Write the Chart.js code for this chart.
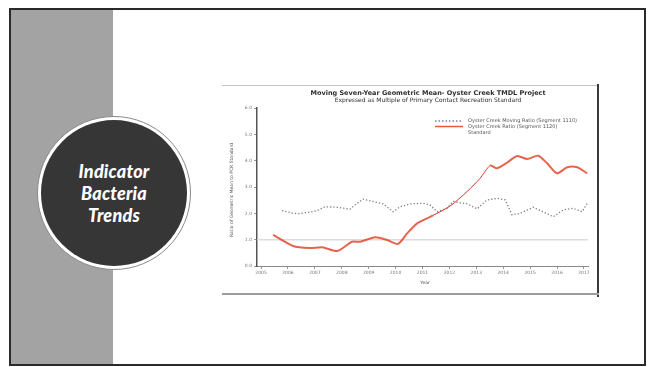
<!DOCTYPE html>
<html>
<head>
<meta charset="utf-8">
<script src="https://cdn.jsdelivr.net/npm/chart.js@4.4.0/dist/chart.umd.min.js"></script>
<style>
  html, body { margin:0; padding:0; background:#fff; }
  #slide { position:relative; width:654px; height:367px; overflow:hidden; background:#fff; }
  #frame { position:absolute; left:9px; top:8px; width:637px; height:358px; border:2px solid #2a2a2a; box-sizing:border-box; background:#fff; }
  #band { position:absolute; left:11px; top:10px; width:102px; height:354px; background:#a3a3a3; }
  #circle { position:absolute; left:37px; top:116px; width:154px; height:154px; border-radius:50%; background:#fff; border:1px solid #8a8a8a; box-sizing:border-box; }
  #inner { position:absolute; left:3px; top:3px; right:3px; bottom:3px; border-radius:50%; background:#363636; display:flex; flex-direction:column; align-items:center; justify-content:center; }
  #inner div { color:#fff; font-family:Lato, "Open Sans", sans-serif; font-weight:900; font-style:italic; font-size:18px; line-height:22px; letter-spacing:0.2px; }
  #cbox { position:absolute; left:218px; top:84px; width:380px; height:210px; }
  #topline { position:absolute; left:222px; top:85px; width:376px; height:1px; background:#c4c4c4; }
  #rightline { position:absolute; left:597px; top:84px; width:2px; height:213px; background:#3a3a3a; }
  #botline { position:absolute; left:222px; top:293px; width:377px; height:2px; background:#9d9d9d; }
</style>
</head>
<body>
<div id="slide">
  <div id="frame"></div>
  <div id="band"></div>
  <div id="circle"><div id="inner"><div>Indicator</div><div>Bacteria</div><div>Trends</div></div></div>
  <div id="topline"></div>
  <div id="rightline"></div>
  <div id="botline"></div>
  <div id="cbox"><canvas id="c" width="380" height="210"></canvas></div>
</div>
<script>
// ---- data ----
const yearTicks = [2005,2006,2007,2008,2009,2010,2011,2012,2013,2014,2015,2016,2017];
const yTicks = [0,1,2,3,4,5,6];

const seg1110Years = [2005.78,2006.08,2006.34,2006.71,2007.08,2007.38,2007.83,2008.31,2008.49,2008.79,2009.16,2009.54,2009.91,2010.17,2010.54,2011.02,2011.28,2011.54,2011.91,2012.14,2012.66,2013.03,2013.40,2013.77,2014.07,2014.33,2014.63,2015.11,2015.48,2015.86,2016.23,2016.60,2016.93,2017.12];
const seg1110Ratio = [2.10,2.03,1.98,2.03,2.10,2.25,2.23,2.16,2.32,2.54,2.45,2.36,2.06,2.25,2.36,2.38,2.32,2.06,2.19,2.45,2.36,2.17,2.51,2.57,2.51,1.94,2.00,2.23,2.06,1.87,2.13,2.19,2.06,2.38];

const seg1120Years = [2005.45,2006.19,2006.82,2007.27,2007.83,2008.38,2008.68,2009.24,2009.68,2010.09,2010.43,2010.80,2011.17,2011.39,2012.03,2012.66,2013.14,2013.51,2013.77,2014.15,2014.52,2014.89,2015.30,2015.63,2016.00,2016.38,2016.75,2017.12];
const seg1120Ratio = [1.18,0.76,0.68,0.71,0.57,0.92,0.92,1.09,0.99,0.84,1.24,1.62,1.81,1.92,2.28,2.83,3.33,3.81,3.71,3.93,4.18,4.06,4.19,3.90,3.52,3.75,3.75,3.52];

const standardYears = [2004.85, 2017.15];
const standardRatio = [1, 1];

const titleLines = ["Moving Seven-Year Geometric Mean- Oyster Creek TMDL Project",
                    "Expressed as Multiple of Primary Contact Recreation Standard"];
const yTitle = "Ratio of Geometric Mean to PCR Standard";
const xTitle = "Year";
const legendLabels = ["Oyster Creek Moving Ratio (Segment 1110)", "Oyster Creek Ratio (Segment 1120)", "Standard"];

const pts = (xs, ys) => xs.map((x,i)=>({x, y: ys[i]}));

const textPlugin = {
  id: 'texts',
  afterDraw(chart) {
    const ctx = chart.ctx;
    ctx.save();
    ctx.fillStyle = '#2e2e2e';
    ctx.textAlign = 'center';
    ctx.textBaseline = 'middle';
    ctx.font = 'bold 6.5px "DejaVu Sans", sans-serif';
    ctx.fillText(titleLines[0], 210, 9);
    ctx.font = '6px "DejaVu Sans", sans-serif';
    ctx.fillText(titleLines[1], 210, 16);
    ctx.fillStyle = '#555';
    ctx.font = '4.5px "DejaVu Sans", sans-serif';
    ctx.fillText(xTitle, 207, 199);
    ctx.save();
    ctx.translate(14, 106);
    ctx.rotate(-Math.PI/2);
    ctx.fillText(yTitle, 0, 0);
    ctx.restore();
    const lx = 217, tx = 250;
    ctx.lineWidth = 1.5;
    ctx.strokeStyle = '#6f84a8';
    ctx.setLineDash([1.5, 2]);
    ctx.beginPath(); ctx.moveTo(lx, 37); ctx.lineTo(lx+28, 37); ctx.stroke();
    ctx.setLineDash([]);
    ctx.strokeStyle = '#e8583c';
    ctx.beginPath(); ctx.moveTo(lx, 42.5); ctx.lineTo(lx+28, 42.5); ctx.stroke();
    ctx.textAlign = 'left';
    ctx.fillStyle = '#555';
    ctx.font = '5px "DejaVu Sans", sans-serif';
    ctx.fillText(legendLabels[0], tx, 37);
    ctx.fillText(legendLabels[1], tx, 42.5);
    ctx.fillText(legendLabels[2], tx, 49);
    ctx.restore();
  }
};

new Chart(document.getElementById('c'), {
  type: 'line',
  data: {
    datasets: [
      { label: legendLabels[2], data: pts(standardYears, standardRatio), borderColor: '#dcdcdc', borderWidth: 1.5, pointRadius: 0, order: 3 },
      { label: legendLabels[0], data: pts(seg1110Years, seg1110Ratio), borderColor: '#7d7f86', borderWidth: 1.3, borderDash: [1.3, 2], pointRadius: 0, order: 2 },
      { label: legendLabels[1], data: pts(seg1120Years, seg1120Ratio), borderColor: '#df4a2e', borderWidth: 2, pointRadius: 0, tension: 0.25, order: 1,
        segment: {
          borderWidth: c => (c.p0.parsed.x >= 2011.3 && c.p1.parsed.x <= 2013.6) ? 1 : 2,
          borderColor: c => (c.p0.parsed.x >= 2011.3 && c.p1.parsed.x <= 2013.6) ? '#e0302a' : 'rgba(223,74,46,0.85)'
        } }
    ]
  },
  options: {
    responsive: false,
    animation: false,
    devicePixelRatio: 1,
    layout: { padding: { top: 24, right: 10, left: 0, bottom: 0 } },
    plugins: { legend: { display: false }, title: { display: false }, tooltip: { enabled: false } },
    scales: {
      x: {
        type: 'linear', min: 2004.85, max: 2017.15,
        afterBuildTicks: s => { s.ticks = yearTicks.map(v => ({ value: v })); },
        afterFit: s => { s.height = 28; },
        border: { display: true, color: '#888', width: 1 },
        grid: { display: true, drawOnChartArea: false, drawTicks: true, tickLength: 3, color: '#999' },
        ticks: { color: '#777', font: { size: 4.5, family: 'DejaVu Sans' }, padding: 1, maxRotation: 0, callback: v => String(v) }
      },
      y: {
        min: 0, max: 6,
        afterBuildTicks: s => { s.ticks = yTicks.map(v => ({ value: v })); },
        afterFit: s => { s.width = 39; },
        border: { display: true, color: '#555', width: 1.5 },
        grid: { display: true, drawOnChartArea: false, drawTicks: true, tickLength: 3, color: '#999' },
        ticks: { color: '#777', font: { size: 4.5, family: 'DejaVu Sans' }, padding: 2, callback: v => v.toFixed(1) }
      }
    }
  },
  plugins: [textPlugin]
});
</script>
</body>
</html>
